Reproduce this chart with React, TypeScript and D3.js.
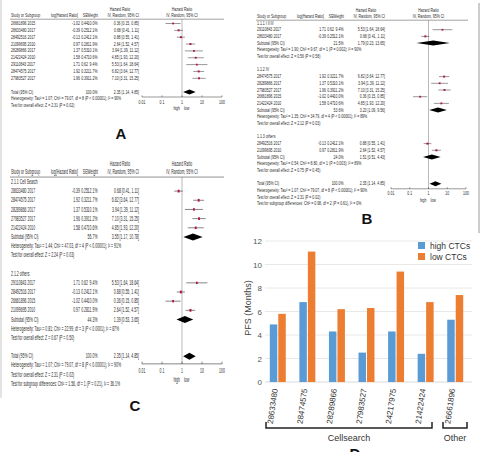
import React, { useEffect, useRef } from 'react';
import * as d3 from 'd3';

const W = 481;
const H = 452;

// study level data (order of panel A)
const studyIds = ['26661896 2015', '28633480 2017', '28492516 2017', '21099695 2010', '28289866 2017', '21422424 2010', '29110843 2017', '28474575 2017', '27983527 2017'];
const logHR = [-1.02, -0.39, -0.13, 0.97, 1.37, 1.58, 1.71, 1.92, 1.96];
const seVals = [0.44, 0.25, 0.24, 0.28, 0.53, 0.47, 0.62, 0.32, 0.39];
const weights = [10.0, 12.1, 12.1, 11.9, 10.1, 10.6, 9.4, 11.7, 11.2];
const hrVals = [0.36, 0.68, 0.88, 2.64, 3.94, 4.85, 5.53, 6.82, 7.10];
const ciLow = [0.15, 0.41, 0.55, 1.52, 1.39, 1.93, 1.64, 3.64, 3.31];
const ciHigh = [0.85, 1.11, 1.41, 4.57, 11.12, 12.20, 18.64, 12.77, 15.25];

const totalHR = [2.35, 1.14, 4.85];
const totalHet = 'Heterogeneity: Tau² = 1.07; Chi² = 79.07, df = 8 (P < 0.00001); I² = 90%';
const totalTest = 'Test for overall effect: Z = 2.31 (P = 0.02)';

// panel B subgroups
const bGroups = ['1.1.1 I II III', '1.1.2 IV', '1.1.3 others'];
const bMembers = [[6, 1], [7, 4, 8, 0, 5], [2, 3]];
const bSubW = ['21.5%', '53.6%', '24.0%'];
const bSubHR = [[1.79, 0.23, 13.65], [3.23, 1.09, 9.56], [1.51, 0.51, 4.43]];
const bHet = [
  'Heterogeneity: Tau² = 1.90; Chi² = 9.67, df = 1 (P = 0.002); I² = 90%',
  'Heterogeneity: Tau² = 1.35; Chi² = 34.79, df = 4 (P < 0.00001); I² = 89%',
  'Heterogeneity: Tau² = 0.54; Chi² = 8.80, df = 1 (P = 0.003); I² = 89%',
];
const bTest = ['Test for overall effect: Z = 0.56 (P = 0.58)', 'Test for overall effect: Z = 2.12 (P = 0.03)', 'Test for overall effect: Z = 0.75 (P = 0.45)'];
const bDiff = 'Test for subgroup differences: Chi² = 0.98, df = 2 (P = 0.61), I² = 0%';

// panel C subgroups
const cGroups = ['2.1.1 Cell Search', '2.1.2 others'];
const cMembers = [[1, 7, 4, 8, 5], [6, 2, 0, 3]];
const cSubW = ['55.7%', '44.3%'];
const cSubHR = [[3.55, 1.17, 10.78], [1.39, 0.53, 3.65]];
const cHet = [
  'Heterogeneity: Tau² = 1.44; Chi² = 47.03, df = 4 (P < 0.00001); I² = 91%',
  'Heterogeneity: Tau² = 0.81; Chi² = 22.99, df = 3 (P < 0.0001); I² = 87%',
];
const cTest = ['Test for overall effect: Z = 2.24 (P = 0.03)', 'Test for overall effect: Z = 0.67 (P = 0.50)'];
const cDiff = 'Test for subgroup differences: Chi² = 1.56, df = 1 (P = 0.21), I² = 36.1%';

// panel D
const pfsIds = ['28633480', '28474575', '28289866', '27983527', '24217975', '21422424', '26661896'];
const highCTCs = [4.9, 6.8, 4.3, 2.5, 4.3, 2.4, 5.3];
const lowCTCs = [5.8, 11.1, 6.2, 6.3, 9.4, 6.8, 7.4];
const seriesNames = ['high CTCs', 'low CTCs'];
const seriesColors = ['#5b9bd5', '#ed7d31'];

type Line =
  | { kind: 'study'; i: number }
  | { kind: 'group'; label: string }
  | { kind: 'sub'; label: string; w: string; est: number[] }
  | { kind: 'note'; text: string }
  | { kind: 'blank' };

const ciText = (e: number[]) => `${e[0].toFixed(2)} [${e[1].toFixed(2)}, ${e[2].toFixed(2)}]`;

function groupedLines(groups: string[], members: number[][], subW: string[], subHR: number[][], het: string[], test: string[], diff: string): Line[] {
  const out: Line[] = [];
  groups.forEach((g, k) => {
    out.push({ kind: 'group', label: g });
    members[k].forEach(i => out.push({ kind: 'study', i }));
    out.push({ kind: 'sub', label: 'Subtotal (95% CI)', w: subW[k], est: subHR[k] });
    out.push({ kind: 'note', text: het[k] });
    out.push({ kind: 'note', text: test[k] });
    out.push({ kind: 'blank' });
  });
  out.push({ kind: 'sub', label: 'Total (95% CI)', w: '100.0%', est: totalHR });
  out.push({ kind: 'note', text: totalHet });
  out.push({ kind: 'note', text: totalTest });
  out.push({ kind: 'note', text: diff });
  return out;
}

interface ForestCfg {
  tx: number; ty: number; sy: number; dy: number; first: number;
  axis: [number, number]; axisGap: number;
}

const FONT = '"Liberation Sans", Arial, sans-serif';
const NARROW = 0.76; // mimic a condensed face

function drawForest(root: d3.Selection<SVGGElement, unknown, null, undefined>, lines: Line[], cfg: ForestCfg) {
  const g = root.append('g').attr('transform', `translate(${cfg.tx},${cfg.ty}) scale(1,${cfg.sy})`)
    .style('font-family', FONT).style('font-size', '4.6px').attr('fill', '#2a2a2a');
  const x = d3.scaleLog().domain([0.01, 100]).range(cfg.axis);
  const clampX = (v: number) => Math.max(cfg.axis[0], Math.min(cfg.axis[1], x(v)));
  const txt = (s: string, px: number, py: number, anchor = 'start') =>
    g.append('text').attr('transform', `translate(${px},${py}) scale(${NARROW},1)`)
      .attr('text-anchor', anchor).text(s);

  // headers
  txt('Hazard Ratio', 120, -6, 'middle');
  txt('Hazard Ratio', x(1), -6, 'middle');
  txt('Study or Subgroup', 11, 0);
  txt('log[Hazard Ratio]', 78, 0, 'end');
  txt('SE', 87.5, 0, 'end');
  txt('Weight', 98, 0, 'end');
  txt('IV, Random, 95% CI', 139, 0, 'end');
  txt('IV, Random, 95% CI', x(1), 0, 'middle');
  g.append('line').attr('x1', 10).attr('x2', cfg.axis[1] + 2).attr('y1', 2.2).attr('y2', 2.2)
    .attr('stroke', '#444').attr('stroke-width', 0.5);

  let totalY = 0;
  lines.forEach((ln, idx) => {
    const y = cfg.first + idx * cfg.dy;
    if (ln.kind === 'study') {
      const i = ln.i;
      txt(studyIds[i], 11, y);
      txt(logHR[i].toFixed(2), 80, y, 'end');
      txt(seVals[i].toFixed(2), 88, y, 'end');
      txt(weights[i].toFixed(1) + '%', 97.5, y, 'end');
      txt(ciText([hrVals[i], ciLow[i], ciHigh[i]]), 139, y, 'end');
      const my = y - 1.5;
      g.append('line').attr('x1', clampX(ciLow[i])).attr('x2', clampX(ciHigh[i]))
        .attr('y1', my).attr('y2', my).attr('stroke', '#333').attr('stroke-width', 0.5);
      const s = 0.9 + weights[i] * 0.09;
      g.append('rect').attr('x', x(hrVals[i]) - s / 2).attr('y', my - s / 2)
        .attr('width', s).attr('height', s).attr('fill', '#b3163a');
    } else if (ln.kind === 'group') {
      txt(ln.label, 11, y);
    } else if (ln.kind === 'sub') {
      txt(ln.label, 11, y);
      txt(ln.w, 97.5, y, 'end');
      txt(ciText(ln.est), 139, y, 'end');
      const my = y - 1.5;
      const h = 2.5;
      const pts: [number, number][] = [[x(ln.est[1]), my], [x(ln.est[0]), my - h], [x(ln.est[2]), my], [x(ln.est[0]), my + h]];
      g.append('path').attr('d', d3.line()(pts) + 'Z').attr('fill', '#000');
      if (ln.label.startsWith('Total')) totalY = y;
    } else if (ln.kind === 'note') {
      txt(ln.text, 11, y);
    }
  });

  // axis
  const ay = totalY + cfg.axisGap;
  g.insert('line', ':first-child').attr('x1', x(1)).attr('x2', x(1)).attr('y1', 2.2).attr('y2', ay)
    .attr('stroke', '#a8a8a8').attr('stroke-width', 0.8);
  g.append('line').attr('x1', cfg.axis[0]).attr('x2', cfg.axis[1]).attr('y1', ay).attr('y2', ay)
    .attr('stroke', '#333').attr('stroke-width', 0.5);
  const ticks = [0.01, 0.1, 1, 10, 100];
  ticks.forEach(t => {
    g.append('line').attr('x1', x(t)).attr('x2', x(t)).attr('y1', ay - 1.6).attr('y2', ay)
      .attr('stroke', '#333').attr('stroke-width', 0.5);
    txt(String(t), x(t), ay + 6.5, 'middle');
  });
  txt('high', x(1) - 2, ay + 13, 'end');
  txt('low', x(1) + 2, ay + 13, 'start');
}

function drawBars(svg: d3.Selection<SVGSVGElement, unknown, null, undefined>) {
  const g = svg.append('g').style('font-family', '"Liberation Sans", Arial, sans-serif');
  const x = d3.scaleBand().domain(pfsIds).range([263, 470]).paddingInner(0.46).paddingOuter(0.23);
  const x1 = d3.scaleBand().domain(seriesNames).range([0, x.bandwidth()]).paddingInner(0.12);
  const y = d3.scaleLinear().domain([0, 12]).range([382, 241]);

  y.ticks(6).forEach(t => {
    g.append('line').attr('x1', 265).attr('x2', 472).attr('y1', y(t)).attr('y2', y(t))
      .attr('stroke', t === 0 ? '#d9d9d9' : '#e8e8e8').attr('stroke-width', 1);
    g.append('text').attr('x', 262).attr('y', y(t) + 3).attr('text-anchor', 'end')
      .style('font-size', '8px').attr('fill', '#555').text(t);
  });
  g.append('text').attr('transform', `translate(251,308) rotate(-90)`).attr('text-anchor', 'middle')
    .style('font-size', '9px').attr('fill', '#444').text('PFS (Months)');

  [highCTCs, lowCTCs].forEach((vals, k) => {
    g.selectAll(null).data(vals).enter().append('rect')
      .attr('x', (_d, i) => (x(pfsIds[i]) as number) + (x1(seriesNames[k]) as number))
      .attr('y', d => y(d))
      .attr('width', x1.bandwidth())
      .attr('height', d => y(0) - y(d))
      .attr('fill', seriesColors[k]);
  });

  pfsIds.forEach(id => {
    const cx = (x(id) as number) + x.bandwidth() / 2;
    g.append('text').attr('transform', `translate(${cx},389) rotate(-82)`).attr('text-anchor', 'end')
      .style('font-size', '8px').attr('fill', '#333').text(id);
  });

  // legend
  seriesNames.forEach((s, k) => {
    g.append('rect').attr('x', 418).attr('y', 242 + k * 11).attr('width', 7).attr('height', 7).attr('fill', seriesColors[k]);
    g.append('text').attr('x', 430).attr('y', 248.5 + k * 11).style('font-size', '8.5px').attr('fill', '#333').text(s);
  });

  // brackets
  const bracket = (x0: number, x1b: number, label: string) => {
    g.append('path').attr('d', `M${x0},422 V428 H${x1b} V422`).attr('fill', 'none')
      .attr('stroke', '#222').attr('stroke-width', 1.5);
    g.append('text').attr('x', (x0 + x1b) / 2).attr('y', 441).attr('text-anchor', 'middle')
      .style('font-size', '9px').attr('fill', '#333').text(label);
  };
  bracket(266, 432, 'Cellsearch');
  bracket(443, 467, 'Other');
}

const App: React.FC = () => {
  const svgRef = useRef<SVGSVGElement>(null);

  useEffect(() => {
    if (!svgRef.current) return;
    const svg = d3.select(svgRef.current);
    svg.selectAll('*').remove();
    svg.append('rect').attr('width', W).attr('height', H).attr('fill', '#fff');

    // frame lines
    svg.append('line').attr('x1', 1).attr('x2', 1).attr('y1', 0).attr('y2', 398).attr('stroke', '#c8c8c8');
    svg.append('line').attr('x1', 479).attr('x2', 479).attr('y1', 3).attr('y2', 233).attr('stroke', '#9a9a9a');

    const root = svg.append('g');

    const aLines: Line[] = [
      ...studyIds.map((_s, i) => ({ kind: 'study', i } as Line)),
      { kind: 'blank' },
      { kind: 'sub', label: 'Total (95% CI)', w: '100.0%', est: totalHR },
      { kind: 'note', text: totalHet },
      { kind: 'note', text: totalTest },
    ];
    drawForest(root, aLines, { tx: 0, ty: 17, sy: 1, dy: 6.85, first: 8, axis: [142, 222], axisGap: 3.5 });

    const bLines = groupedLines(bGroups, bMembers, bSubW, bSubHR, bHet, bTest, bDiff);
    drawForest(root, bLines, { tx: 246, ty: 18, sy: 1, dy: 6.7, first: 6.5, axis: [145, 220], axisGap: 3.5 });

    const cLines = groupedLines(cGroups, cMembers, cSubW, cSubHR, cHet, cTest, cDiff);
    drawForest(root, cLines, { tx: 0, ty: 174, sy: 1.39, dy: 6.6, first: 7.2, axis: [142, 222], axisGap: 4 });

    drawBars(svg);

    const lab = (s: string, px: number, py: number) =>
      svg.append('text').attr('x', px).attr('y', py).attr('text-anchor', 'middle')
        .style('font-family', '"Liberation Sans", Arial, sans-serif').style('font-size', '15px')
        .style('font-weight', 'bold').attr('fill', '#111').text(s);
    lab('A', 121, 139);
    lab('B', 367, 224);
    lab('C', 135, 411);
    lab('D', 355, 459);
  }, []);

  return (
    <svg ref={svgRef} width={W} height={H} style={{ position: 'absolute', left: 0, top: 0, display: 'block' }} />
  );
};

export default App;
